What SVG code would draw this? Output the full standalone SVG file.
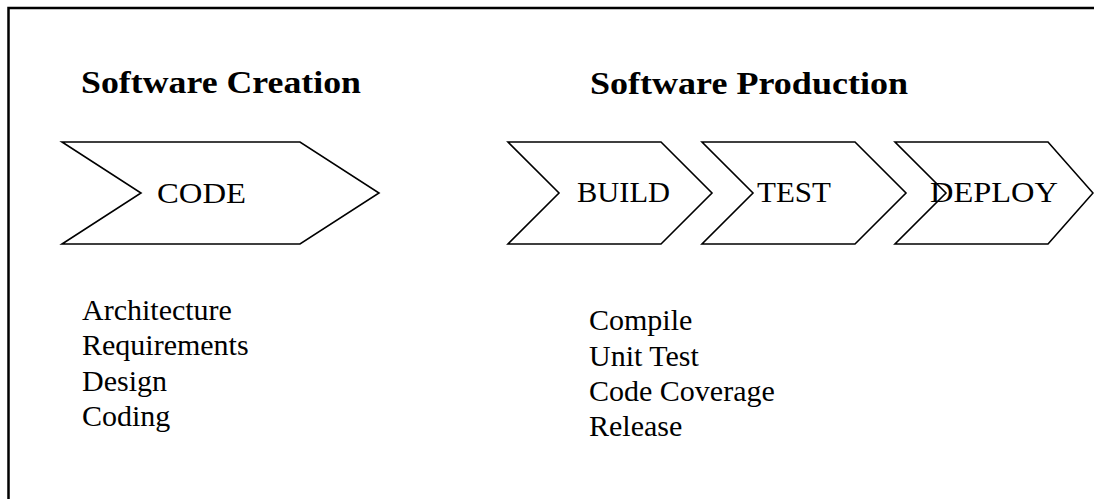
<svg xmlns="http://www.w3.org/2000/svg" width="1094" height="499" viewBox="0 0 1094 499">
<style>
.frame{fill:none;stroke:#000;stroke-width:2.5}
.chev{fill:none;stroke:#000;stroke-width:1.6;stroke-linejoin:miter}
.title{font-family:"Liberation Serif",serif;font-weight:bold;font-size:32px;fill:#000}
.lbl{font-family:"Liberation Serif",serif;font-size:30px;fill:#000}
.item{font-family:"Liberation Serif",serif;font-size:30px;fill:#000}
</style>
<rect class="frame" x="8.5" y="8" width="1100" height="510"/>
<text class="title" x="81" y="93" textLength="280" lengthAdjust="spacingAndGlyphs">Software Creation</text>
<text class="title" x="590" y="94" textLength="318" lengthAdjust="spacingAndGlyphs">Software Production</text>
<g id="connectors"></g>
<g id="code">
<polygon class="chev" points="62,142 300,142 379,193 300,244 62,244 141,193"/>
<text class="lbl" x="157" y="203" textLength="89" lengthAdjust="spacingAndGlyphs">CODE</text>
</g>
<g id="build">
<polygon class="chev" points="508,142 661,142 712,193 661,244 508,244 559,193"/>
<text class="lbl" x="577" y="202" textLength="93" lengthAdjust="spacingAndGlyphs">BUILD</text>
</g>
<g id="test">
<polygon class="chev" points="702,142 855,142 906,193 855,244 702,244 753,193"/>
<text class="lbl" x="757" y="202" textLength="74" lengthAdjust="spacingAndGlyphs">TEST</text>
</g>
<g id="deploy">
<polygon class="chev" points="895,142 1048,142 1093,193 1048,244 895,244 946,193"/>
<text class="lbl" x="930" y="202" textLength="128" lengthAdjust="spacingAndGlyphs">DEPLOY</text>
</g>
<g id="creation-list">
<text class="item" x="82" y="320">Architecture</text>
<text class="item" x="82" y="355">Requirements</text>
<text class="item" x="82" y="391">Design</text>
<text class="item" x="82" y="426">Coding</text>
</g>
<g id="production-list">
<text class="item" x="589" y="330">Compile</text>
<text class="item" x="589" y="366">Unit Test</text>
<text class="item" x="589" y="401">Code Coverage</text>
<text class="item" x="589" y="436">Release</text>
</g>
</svg>
